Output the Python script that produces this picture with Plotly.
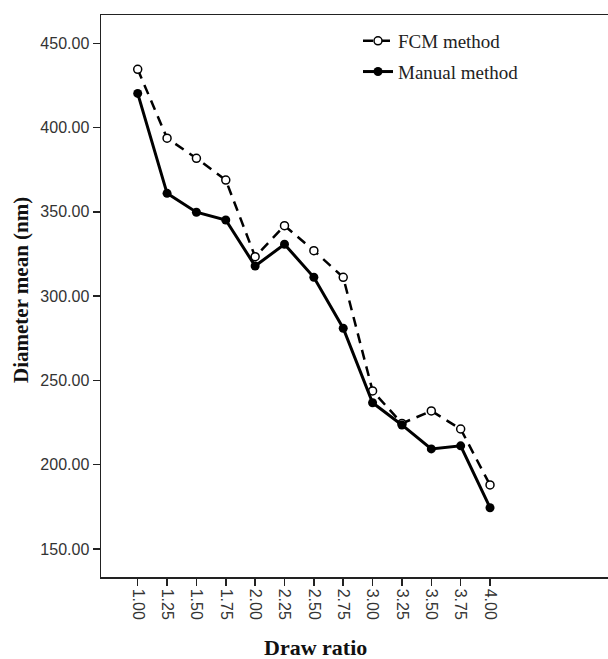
import plotly.graph_objects as go

draw_ratio = [1.00, 1.25, 1.50, 1.75, 2.00, 2.25, 2.50, 2.75, 3.00, 3.25, 3.50, 3.75, 4.00]
tick_labels = ["1.00", "1.25", "1.50", "1.75", "2.00", "2.25", "2.50", "2.75",
               "3.00", "3.25", "3.50", "3.75", "4.00"]
fcm_values = [434.6, 393.7, 381.8, 368.9, 323.4, 341.8, 327.0, 311.2, 243.8, 224.5, 231.9, 221.2, 188.0]
manual_values = [420.3, 361.0, 349.8, 345.2, 317.9, 330.8, 311.2, 281.0, 236.8, 223.6, 209.4, 211.2, 174.5]
y_ticks = [150, 200, 250, 300, 350, 400, 450]
y_tick_labels = ["150.00", "200.00", "250.00", "300.00", "350.00", "400.00", "450.00"]

fig = go.Figure()
fig.add_trace(go.Scatter(
    x=draw_ratio, y=fcm_values, name="FCM method", mode="lines+markers",
    legendgroup="a",
    line=dict(color="black", width=2.5, dash="10px,7px"),
    marker=dict(symbol="circle", size=8, color="white", line=dict(color="black", width=1.5)),
))
fig.add_trace(go.Scatter(
    x=draw_ratio, y=manual_values, name="Manual method", mode="lines+markers",
    legendgroup="b",
    line=dict(color="black", width=3),
    marker=dict(symbol="circle", size=9, color="black"),
))

# the plot area runs past the right edge of the 608-px window, as in the reference
W, H = 630, 659
L, R, T, B = 101, 0, 15, 82
pw, ph = W - L - R, H - T - B
px_per_unit = 29.36 / 0.25
x_lo = 1.00 - (137.7 - L) / px_per_unit
x_hi = x_lo + pw / px_per_unit

fig.update_layout(
    width=W, height=H,
    margin=dict(l=L, r=R, t=T, b=B),
    plot_bgcolor="white", paper_bgcolor="white",
    showlegend=True,
    hovermode=False,
    legend=dict(
        x=(358 - L) / pw, y=1 - (22 - T) / ph, xanchor="left", yanchor="top",
        font=dict(family="Liberation Serif", size=19, color="#222"),
        bgcolor="rgba(0,0,0,0)", itemwidth=30, tracegroupgap=3,
    ),
)
fig.add_annotation(text="<b>Diameter mean (nm)</b>", xref="paper", yref="paper",
                   x=(21 - L) / pw, y=1 - (290 - T) / ph, xanchor="center", yanchor="middle",
                   textangle=-90, showarrow=False,
                   font=dict(family="Liberation Serif", size=21, color="#111"))
fig.add_annotation(text="<b>Draw ratio</b>", xref="paper", yref="paper",
                   x=(315 - L) / pw, y=-(647 - (T + ph)) / ph, xanchor="center", yanchor="middle",
                   showarrow=False, font=dict(family="Liberation Serif", size=22, color="#111"))

fig.update_xaxes(
    range=[x_lo, x_hi], tickvals=draw_ratio, ticktext=tick_labels,
    tickangle=90, ticks="outside", ticklen=7, tickwidth=1.5, tickcolor="#222",
    showline=True, linecolor="#222", linewidth=1.5, mirror=True,
    showgrid=False, zeroline=False,
    tickfont=dict(family="Liberation Sans", size=16, color="#333"),
)
fig.update_yaxes(
    range=[133.4, 466.8], tickvals=y_ticks, ticktext=y_tick_labels,
    ticks="outside", ticklen=7, tickwidth=1.5, tickcolor="#222",
    showline=True, linecolor="#222", linewidth=1.5,
    showgrid=False, zeroline=False,
    tickfont=dict(family="Liberation Sans", size=16, color="#333"),
)

fig.write_html(
    "out.html",
    config={"displayModeBar": False, "staticPlot": True},
    post_script="document.body.style.margin='0';document.documentElement.style.overflow='hidden';",
)
